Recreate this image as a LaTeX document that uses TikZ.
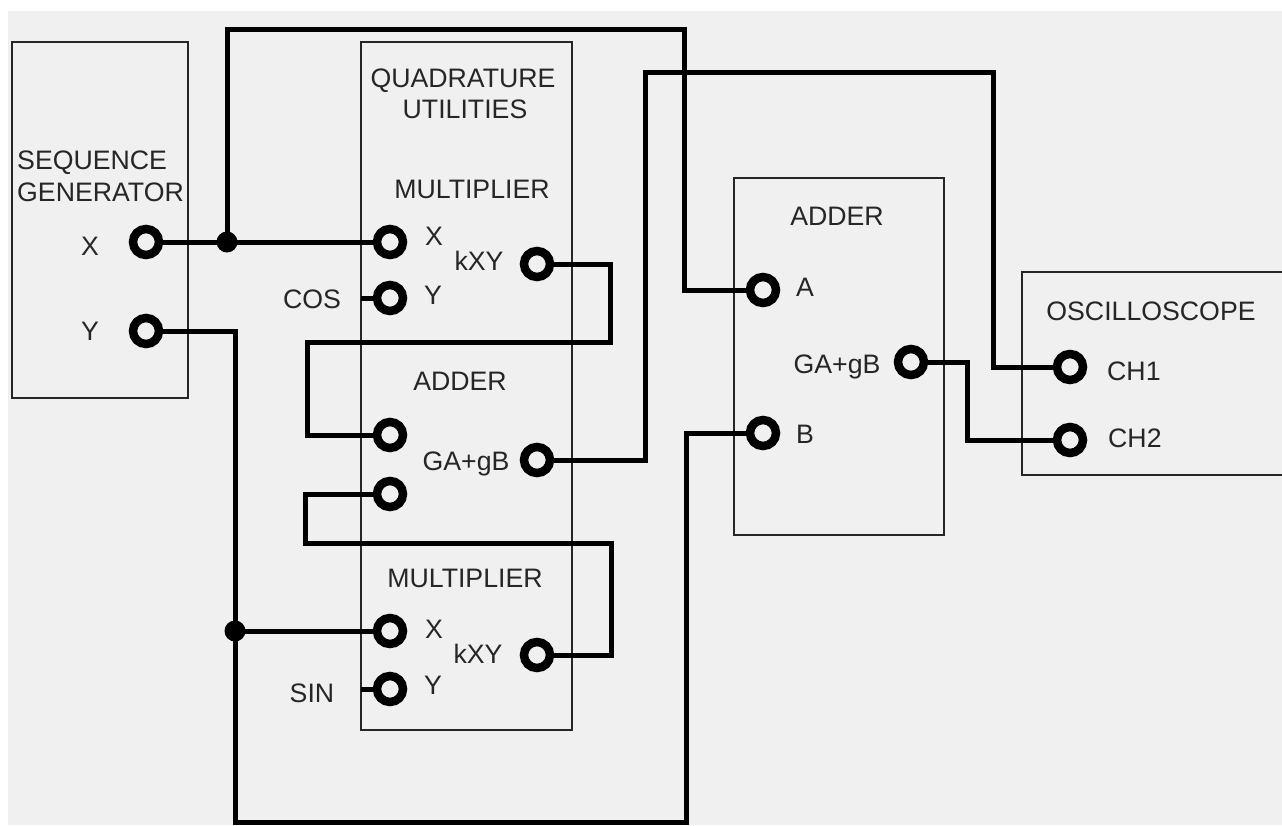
\documentclass[tikz,border=0pt]{standalone}
\usepackage{fontspec}
\setmainfont{Liberation Sans}
\definecolor{bg}{HTML}{F0F0F0}
\definecolor{ink}{HTML}{262626}
\tikzset{
  lbl/.style={font=\fontsize{26.7}{30}\selectfont, text=ink, inner sep=0pt, anchor=base},
  box/.style={draw=ink, line width=1.2pt, rectangle, inner sep=0pt},
  term/.style={circle, draw=black, line width=8.5pt, fill=bg, minimum size=26pt, inner sep=0pt},
  junc/.style={circle, fill=black, minimum size=21pt, inner sep=0pt},
  wire/.style={draw=black, line width=5pt, line join=miter},
}
\begin{document}
\begin{tikzpicture}[x=1pt, y=-1pt]
\useasboundingbox (0,0) rectangle (1282,825);
\clip (0,0) rectangle (1282,825);
\fill[white] (0,0) rectangle (1282,825);
\fill[bg] (8,11) rectangle (1282,825);

% boxes
\node[box, minimum width=176pt, minimum height=356pt] (sg) at (100,220) {};
\node[box, minimum width=211pt, minimum height=688pt] (qu) at (466.5,386) {};
\node[box, minimum width=210pt, minimum height=357pt] (ad2) at (839,356.5) {};
\node[box, minimum width=276pt, minimum height=203pt] (osc) at (1160,373.5) {};

% labels
\node[lbl, anchor=base west] (tSeq) at (17,169) {SEQUENCE};
\node[lbl, anchor=base west] (tGen) at (17,201) {GENERATOR};
\node[lbl] (lsgX) at (90,255) {X};
\node[lbl] (lsgY) at (90,340) {Y};

\node[lbl] (tQuad) at (463,87) {QUADRATURE};
\node[lbl] (tUtil) at (465,118) {UTILITIES};
\node[lbl] (tMul1) at (472,198) {MULTIPLIER};
\node[lbl] (lm1X) at (434,245) {X};
\node[lbl] (lm1k) at (479,270) {kXY};
\node[lbl] (lm1Y) at (433,304) {Y};
\node[lbl] (lcos) at (312,308) {COS};

\node[lbl] (tAdd1) at (460,390) {ADDER};
\node[lbl] (ladd1) at (466,470) {GA+gB};

\node[lbl] (tMul2) at (465,587) {MULTIPLIER};
\node[lbl] (lm2X) at (434,638) {X};
\node[lbl] (lm2k) at (478,663) {kXY};
\node[lbl] (lm2Y) at (433,694) {Y};
\node[lbl] (lsin) at (312,702) {SIN};

\node[lbl] (tAdd2) at (837,225) {ADDER};
\node[lbl] (lA) at (805,296) {A};
\node[lbl] (ladd2) at (837,373) {GA+gB};
\node[lbl] (lB) at (805,443) {B};

\node[lbl] (tOsc) at (1151,320) {OSCILLOSCOPE};
\node[lbl, anchor=base west] (lch1) at (1107,380) {CH1};
\node[lbl, anchor=base west] (lch2) at (1108,447) {CH2};

% terminals
\node[term] (sgX) at (146,242) {};
\node[term] (sgY) at (146,331) {};
\node[term] (m1X) at (390,242) {};
\node[term] (m1Y) at (390,298) {};
\node[term] (m1out) at (537,264) {};
\node[term] (adIn1) at (390,435) {};
\node[term] (adIn2) at (390,494) {};
\node[term] (adOut) at (537,460) {};
\node[term] (m2X) at (390,631) {};
\node[term] (m2Y) at (390,689) {};
\node[term] (m2out) at (537,655) {};
\node[term] (A) at (763,290) {};
\node[term] (B) at (763,433) {};
\node[term] (ad2out) at (911,362) {};
\node[term] (CH1) at (1070,367) {};
\node[term] (CH2) at (1070,440) {};

% junctions
\node[junc] (J1) at (227,242) {};
\node[junc] (J2) at (235,631) {};
\coordinate (cosE) at (361,298);
\coordinate (sinE) at (361,689);

% wires
\draw[wire] (sgX.east) -- (J1.center) -- (m1X.west);
\draw[wire] (J1.center) |- (684,29) |- (A.west);
\draw[wire] (sgY.east) -| (J2.center) -- (m2X.west);
\draw[wire] (J2.center) |- (686,822) |- (B.west);
\draw[wire] (m1out.east) -| (610,342) -| (307,435) -- (adIn1.west);
\draw[wire] (adIn2.west) -| (305,543) -| (611,655) -- (m2out.east);
\draw[wire] (adOut.east) -| (645,72) -| (993,367) -- (CH1.west);
\draw[wire] (ad2out.east) -| (967,440) -- (CH2.west);
\draw[wire] (cosE) -- (m1Y.west);
\draw[wire] (sinE) -- (m2Y.west);
\end{tikzpicture}
\end{document}
